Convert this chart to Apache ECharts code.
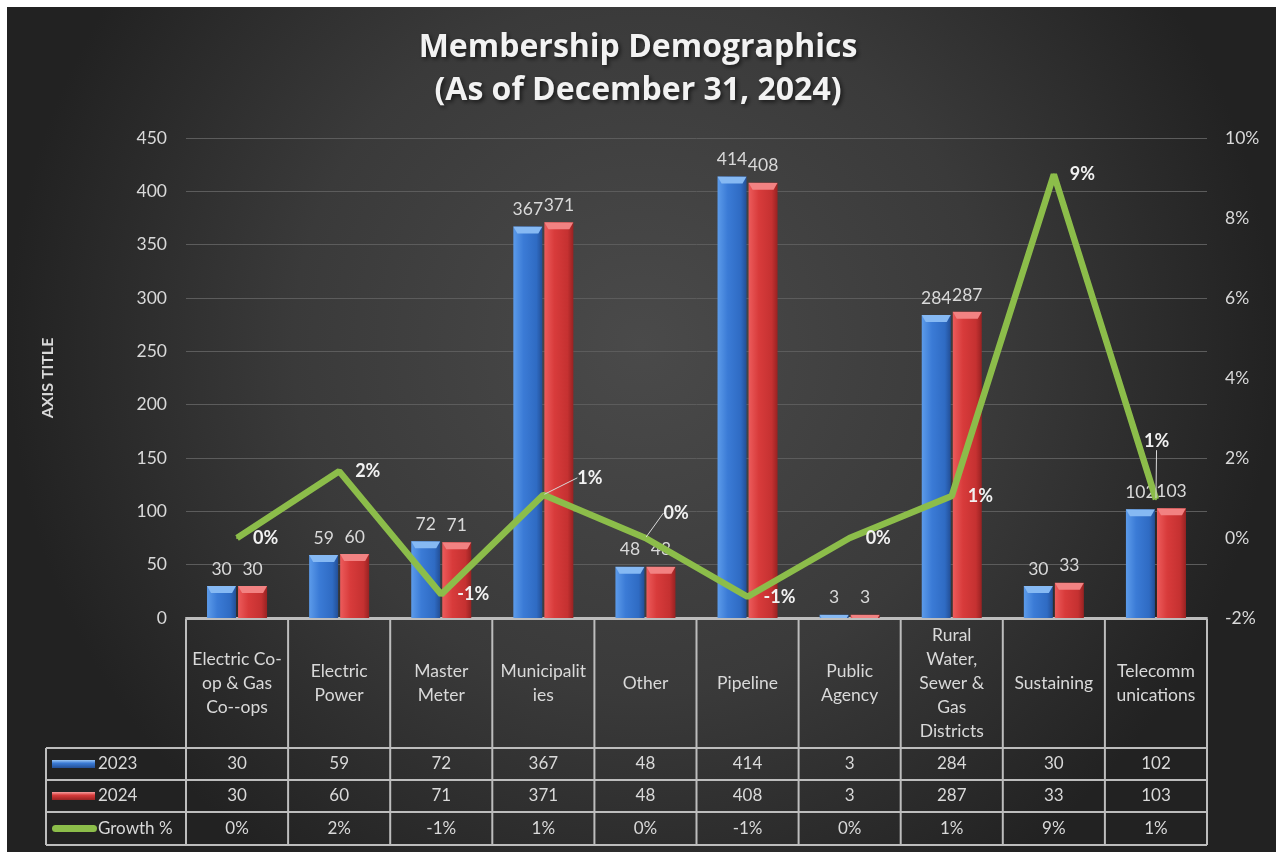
<!DOCTYPE html>
<html>
<head>
<meta charset="utf-8">
<title>Membership Demographics</title>
<script src="https://cdn.jsdelivr.net/npm/echarts@6/dist/echarts.min.js"></script>
<style>
  html, body { margin: 0; padding: 0; background: #ffffff; }
  #main { width: 1276px; height: 852px; }
</style>
</head>
<body>
<div id="main"></div>
<script>
	//数据 ------------------------------------------------
	var categories = ["Electric Co-\nop & Gas\nCo--ops", "Electric\nPower", "Master\nMeter", "Municipalit\nies",
		"Other", "Pipeline", "Public\nAgency", "Rural\nWater,\nSewer &\nGas\nDistricts", "Sustaining", "Telecomm\nunications"];
	var seriesNames = ["2023", "2024", "Growth %"];
	var values2023 = [30, 59, 72, 367, 48, 414, 3, 284, 30, 102];
	var values2024 = [30, 60, 71, 371, 48, 408, 3, 287, 33, 103];
	var growthPct = [0, 1.67, -1.41, 1.08, 0, -1.47, 0, 1.05, 9.09, 0.97];
	//刻度
	var leftTicks = { min: 0, max: 450, step: 50 };
	var rightTicks = { min: -2, max: 10, step: 2 };

	//布局 ------------------------------------------------
	var plotL = 186, plotR = 1207, plotT = 138, plotB = 618;
	var colW = (plotR - plotL) / categories.length;
	var headTop = 619;
	var rowY = [748, 780, 812, 845];
	var legendL = 46;
	var txtColor = "#d9d9d9";
	var lineColor = "#bdbdbd";
	var green = "#8cbd4a";
	var font = "Lato";
	//个别折线标签需要挪位置（带引导线）
	var labelShift = { 3: [18, -17], 4: [2, -25], 9: [-28, -58] };

	function hGrad(stops) {
		return new echarts.graphic.LinearGradient(0, 0, 1, 0, stops);
	}
	var blueFill = hGrad([{offset: 0, color: "#5c9bea"}, {offset: 0.35, color: "#3b7bd6"},
		{offset: 0.8, color: "#2f6bc3"}, {offset: 1, color: "#234f96"}]);
	var redFill = hGrad([{offset: 0, color: "#ec5b5b"}, {offset: 0.35, color: "#d83b3b"},
		{offset: 0.8, color: "#c53131"}, {offset: 1, color: "#982222"}]);
	var capPath = "path://M0,0 L29,0 L25,7 L4,7 Z";

	function fmtPct(v) {
		var r = Math.round(v);
		return (r === 0 ? 0 : r) + "%";
	}

	//表格（数据表） ------------------------------------------------
	function buildTable() {
		var g = [];
		var ls = { stroke: lineColor, lineWidth: 2 };
		//背景
		g.push({
			type: "rect", z: -10, silent: true,
			shape: { x: 7, y: 7, width: 1269, height: 845 },
			style: { fill: new echarts.graphic.RadialGradient(0.5, 0.4, 0.75, [
				{offset: 0, color: "#4a4a4a"}, {offset: 0.55, color: "#3a3a3a"}, {offset: 1, color: "#222222"}]) }
		});
		//横线
		g.push({ type: "line", shape: { x1: plotL, y1: headTop, x2: plotR, y2: headTop }, style: ls });
		for (var r = 0; r < rowY.length; r++) {
			g.push({ type: "line", shape: { x1: legendL, y1: rowY[r], x2: plotR, y2: rowY[r] }, style: ls });
		}
		//竖线
		g.push({ type: "line", shape: { x1: legendL, y1: rowY[0], x2: legendL, y2: rowY[3] }, style: ls });
		for (var c = 0; c <= categories.length; c++) {
			var x = plotL + c * colW;
			g.push({ type: "line", shape: { x1: x, y1: headTop, x2: x, y2: rowY[3] }, style: ls });
		}
		//数值
		var rows = [values2023, values2024, growthPct];
		for (var r2 = 0; r2 < rows.length; r2++) {
			var cy = (rowY[r2] + rowY[r2 + 1]) / 2;
			for (var i = 0; i < categories.length; i++) {
				var s = r2 == 2 ? fmtPct(rows[r2][i]) : String(rows[r2][i]);
				g.push({
					type: "text", x: plotL + (i + 0.5) * colW, y: cy,
					style: { text: s, fill: txtColor, font: "17px " + font, align: "center", verticalAlign: "middle" }
				});
			}
			//图例
			var key;
			if (r2 == 2) {
				key = { type: "rect", shape: { x: 52, y: cy - 3.5, width: 45, height: 7, r: 3.5 }, style: { fill: green } };
			} else {
				key = { type: "rect", shape: { x: 52, y: cy - 4, width: 43, height: 8 },
					style: { fill: new echarts.graphic.LinearGradient(0, 0, 0, 1, r2 == 0
						? [{offset: 0, color: "#9cc8f7"}, {offset: 0.4, color: "#3b7bd6"}, {offset: 1, color: "#234f96"}]
						: [{offset: 0, color: "#f7a0a0"}, {offset: 0.4, color: "#d83b3b"}, {offset: 1, color: "#982222"}]) } };
			}
			g.push(key);
			g.push({
				type: "text", x: 98, y: cy,
				style: { text: seriesNames[r2], fill: txtColor, font: "17px " + font, verticalAlign: "middle" }
			});
		}
		return g;
	}

	//折线数据（部分带引导线）
	var growthData = growthPct.map(function (v, i) {
		return labelShift[i] ? { value: v, labelLine: { show: true } } : v;
	});

	var myChart = echarts.init(document.getElementById("main"));
	myChart.setOption({
		backgroundColor: "#ffffff",
		animation: false,
		title: {
			text: "Membership Demographics\n(As of December 31, 2024)",
			left: "center", top: 21,
			textStyle: {
				color: "#f2f2f2", fontFamily: "Open Sans", fontWeight: "bold", fontSize: 32, lineHeight: 43,
				textShadowColor: "rgba(0,0,0,0.6)", textShadowBlur: 4, textShadowOffsetX: 2, textShadowOffsetY: 2
			}
		},
		grid: { left: plotL, top: plotT, width: plotR - plotL, height: plotB - plotT, containLabel: false },
		xAxis: {
			type: "category",
			data: categories,
			axisLine: { show: true, lineStyle: { color: lineColor, width: 2 } },
			axisTick: { show: false },
			axisLabel: {
				interval: 0, margin: 65, verticalAlign: "middle", color: txtColor,
				fontFamily: font, fontSize: 17.5, lineHeight: 24
			}
		},
		yAxis: [{
			type: "value",
			min: leftTicks.min, max: leftTicks.max, interval: leftTicks.step,
			name: "AXIS TITLE", nameLocation: "middle", nameGap: 130, nameRotate: 90,
			nameTextStyle: { color: txtColor, fontFamily: font, fontWeight: "bold", fontSize: 16 },
			axisLine: { show: false }, axisTick: { show: false },
			axisLabel: { color: txtColor, fontFamily: font, fontSize: 17.5, margin: 19 },
			splitLine: { lineStyle: { color: "#5c5c5c", width: 1 } }
		}, {
			type: "value",
			min: rightTicks.min, max: rightTicks.max, interval: rightTicks.step,
			axisLine: { show: false }, axisTick: { show: false },
			axisLabel: { color: txtColor, fontFamily: font, fontSize: 17.5, margin: 18, formatter: "{value}%" },
			splitLine: { show: false }
		}],
		series: [{
			name: seriesNames[0], type: "bar", data: values2023,
			barWidth: 29, barGap: "7%",
			itemStyle: { color: blueFill },
			label: { show: true, position: "top", distance: 8, color: txtColor, fontFamily: font, fontSize: 17.5 }
		}, {
			name: seriesNames[1], type: "bar", data: values2024,
			barWidth: 29, barGap: "7%",
			itemStyle: { color: redFill },
			label: { show: true, position: "top", distance: 8, color: txtColor, fontFamily: font, fontSize: 17.5 }
		}, {
			//柱子顶部的斜面高光
			type: "pictorialBar", data: values2023, z: 3, silent: true,
			barWidth: 29, barGap: "7%",
			symbol: capPath, symbolSize: [29, 7], symbolPosition: "end", symbolClip: true,
			itemStyle: { color: "#86b9f3" }
		}, {
			type: "pictorialBar", data: values2024, z: 3, silent: true,
			barWidth: 29, barGap: "7%",
			symbol: capPath, symbolSize: [29, 7], symbolPosition: "end", symbolClip: true,
			itemStyle: { color: "#f28282" }
		}, {
			name: seriesNames[2], type: "line", yAxisIndex: 1, data: growthData, z: 5,
			symbol: "circle", symbolSize: 2,
			lineStyle: { color: green, width: 6.5 },
			itemStyle: { color: green },
			label: {
				show: true, position: "right", distance: 15, color: "#f2f2f2",
				fontFamily: font, fontWeight: "bold", fontSize: 18,
				formatter: function (p) { return fmtPct(p.value); }
			},
			labelLine: { show: false, lineStyle: { color: "#d9d9d9", width: 1 } },
			labelLayout: function (p) {
				var o = labelShift[p.dataIndex];
				return o ? { dx: o[0], dy: o[1] } : {};
			}
		}],
		graphic: buildTable()
	});
</script>
</body>
</html>
